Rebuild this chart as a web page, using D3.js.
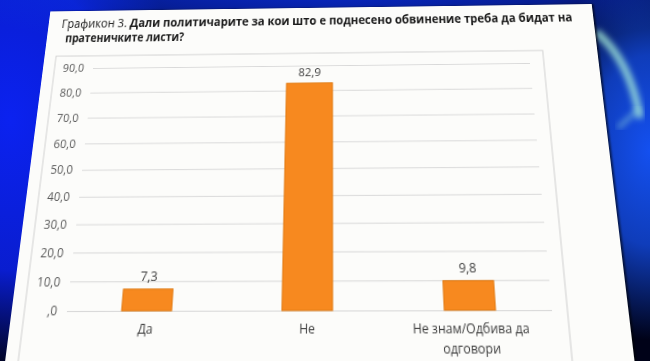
<!DOCTYPE html>
<html>
<head>
<meta charset="utf-8">
<script src="https://cdn.jsdelivr.net/npm/d3@7"></script>
<style>
  html, body { margin: 0; padding: 0; width: 650px; height: 361px; overflow: hidden; background: #000428; }
  #bg { position: absolute; left: 0; top: 0; }
  #paper { position: absolute; left: 0; top: 0; transform-origin: 0 0; background: #fcfcfa;
           box-shadow: 2px 0 2px rgba(0,0,0,0.6); }
  text { font-family: "Open Sans", "Noto Sans", sans-serif; }
</style>
</head>
<body>
<svg id="bg" width="650" height="361"></svg>
<div id="paper"></div>
<script>
// chart data
const categories = ["Да", "Не", "Не знам/Одбива да одговори"];
const values = [7.3, 82.9, 9.8];
const valueLabels = ["7,3", "82,9", "9,8"];
const yTicks = [0, 10, 20, 30, 40, 50, 60, 70, 80, 90];
const yTickLabels = [",0", "10,0", "20,0", "30,0", "40,0", "50,0", "60,0", "70,0", "80,0", "90,0"];
const titlePrefix = "Графикон 3.";
const titleLine1 = " Дали политичарите за кои што е поднесено обвинение треба да бидат на";
const titleLine2 = "пратеничките листи?";

// the photo of the sheet: where the plot corners land on screen
const plotCornersOnScreen = [[93, 68], [530, 63], [67, 311], [552, 310]];

const paperW = 610, paperH = 430;
const PL = 56, PT = 67, PW = 480, PH = 250;
const PR = PL + PW, PB = PT + PH;

// ---------- background ----------
const bg = d3.select("#bg");
const defs = bg.append("defs");
function radial(id, color, stops) {
  const g = defs.append("radialGradient").attr("id", id);
  stops.forEach(([o, a]) => g.append("stop").attr("offset", o).attr("stop-color", color).attr("stop-opacity", a));
}
radial("gLeft", "#0b22f0", [[0, 1], [0.6, 0.85], [1, 0]]);
radial("gTop", "#0a2ee0", [[0, 1], [0.6, 0.6], [1, 0]]);
radial("gRight", "#1450f0", [[0, 1], [0.5, 0.75], [1, 0]]);
defs.append("filter").attr("id", "blur").append("feGaussianBlur").attr("stdDeviation", 3);

bg.append("rect").attr("width", 650).attr("height", 361).attr("fill", "#000218");
bg.append("ellipse").attr("cx", 10).attr("cy", 120).attr("rx", 170).attr("ry", 250).attr("fill", "url(#gLeft)");
bg.append("ellipse").attr("cx", 330).attr("cy", -25).attr("rx", 430).attr("ry", 80).attr("fill", "url(#gTop)");
bg.append("ellipse").attr("cx", 650).attr("cy", 150).attr("rx", 115).attr("ry", 190).attr("fill", "url(#gRight)");
bg.append("path")
  .attr("d", "M596,32 Q630,60 640,118")
  .attr("fill", "none").attr("stroke", "#a6ecd8").attr("stroke-width", 7)
  .attr("stroke-opacity", 0.85).attr("filter", "url(#blur)");
bg.append("path")
  .attr("d", "M640,108 L618,128")
  .attr("fill", "none").attr("stroke", "#9fe6d8").attr("stroke-width", 4)
  .attr("stroke-opacity", 0.55).attr("filter", "url(#blur)");

// ---------- the sheet ----------
const paper = d3.select("#paper").style("width", paperW + "px").style("height", paperH + "px");
const svg = paper.append("svg").attr("width", paperW).attr("height", paperH);

// title
const t1 = svg.append("text").attr("x", 15).attr("y", 20)
  .attr("textLength", 572).attr("lengthAdjust", "spacingAndGlyphs")
  .style("font-size", "14px").attr("fill", "#1a1a1a");
t1.append("tspan").text(titlePrefix);
t1.append("tspan").style("font-weight", "bold").text(titleLine1);
svg.append("text").attr("x", 21).attr("y", 37)
  .attr("textLength", 134).attr("lengthAdjust", "spacingAndGlyphs")
  .style("font-size", "14px").style("font-weight", "bold").attr("fill", "#1a1a1a")
  .text(titleLine2);

// chart frame
svg.append("rect").attr("x", 13).attr("y", 53).attr("width", PR + 15 - 13).attr("height", 400)
  .attr("fill", "none").attr("stroke", "#cfcfcf").attr("stroke-width", 1);

const x = d3.scaleBand().domain(categories).range([PL, PR]).paddingInner(0.687).paddingOuter(0.3435);
const y = d3.scaleLinear().domain([0, 90]).range([PB, PT]);

const yAxis = svg.append("g").attr("transform", `translate(${PL},0)`)
  .call(d3.axisLeft(y).tickValues(yTicks).tickSize(-PW).tickPadding(10)
    .tickFormat((d, i) => yTickLabels[i]));
yAxis.select(".domain").remove();
yAxis.selectAll(".tick line").attr("stroke", "#d9d9d9").attr("stroke-width", 1);
yAxis.selectAll(".tick text").attr("fill", "#595959").style("font-size", "12px");

svg.selectAll("rect.bar")
  .data(values)
  .join("rect")
  .attr("class", "bar")
  .attr("x", (d, i) => x(categories[i]))
  .attr("y", d => y(d))
  .attr("width", x.bandwidth())
  .attr("height", d => y(0) - y(d))
  .attr("fill", "#f7891f")
  .attr("stroke", "#e07a12")
  .attr("stroke-width", 1);

svg.selectAll("text.val")
  .data(values)
  .join("text")
  .attr("class", "val")
  .attr("x", (d, i) => x(categories[i]) + x.bandwidth() / 2)
  .attr("y", d => y(d) - 8)
  .attr("text-anchor", "middle")
  .attr("fill", "#404040")
  .style("font-size", "12.5px")
  .text((d, i) => valueLabels[i]);

// category labels, wrapped like the original
function wrap(label, maxW) {
  const words = label.split(" ");
  const lines = [];
  let cur = "";
  words.forEach(w => {
    const test = cur ? cur + " " + w : w;
    if (test.length > maxW && cur) { lines.push(cur); cur = w; } else cur = test;
  });
  lines.push(cur);
  return lines;
}
const xAxis = svg.append("g");
categories.forEach(c => {
  const t = xAxis.append("text")
    .attr("x", x(c) + x.bandwidth() / 2)
    .attr("y", PB + 21)
    .attr("text-anchor", "middle")
    .attr("fill", "#404040")
    .style("font-size", "12px");
  wrap(c, 18).forEach((line, i) => {
    t.append("tspan").attr("x", x(c) + x.bandwidth() / 2).attr("dy", i ? 18 : 0).text(line);
  });
});

// ---------- perspective of the photo ----------
function homography(src, dst) {
  const A = [], B = [];
  for (let i = 0; i < 4; i++) {
    const [sx, sy] = src[i], [u, v] = dst[i];
    A.push([sx, sy, 1, 0, 0, 0, -sx * u, -sy * u]); B.push(u);
    A.push([0, 0, 0, sx, sy, 1, -sx * v, -sy * v]); B.push(v);
  }
  const n = 8;
  for (let c = 0; c < n; c++) {
    let p = c;
    for (let r = c + 1; r < n; r++) if (Math.abs(A[r][c]) > Math.abs(A[p][c])) p = r;
    [A[c], A[p]] = [A[p], A[c]]; [B[c], B[p]] = [B[p], B[c]];
    for (let r = 0; r < n; r++) {
      if (r === c) continue;
      const f = A[r][c] / A[c][c];
      for (let k = c; k < n; k++) A[r][k] -= f * A[c][k];
      B[r] -= f * B[c];
    }
  }
  return B.map((b, i) => b / A[i][i]);
}
const [a, b, c, d, e, f, g, h] = homography(
  [[PL, PT], [PR, PT], [PL, PB], [PR, PB]], plotCornersOnScreen);
paper.style("transform", `matrix3d(${a},${d},0,${g},${b},${e},0,${h},0,0,1,0,${c},${f},0,1)`);
</script>
</body>
</html>
